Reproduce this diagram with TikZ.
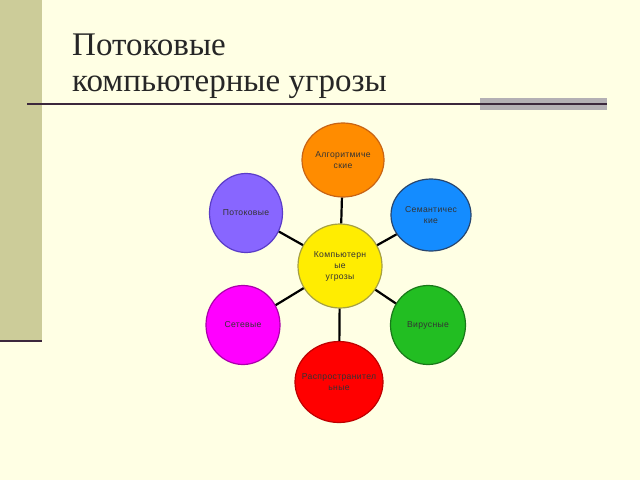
\documentclass[tikz,border=0pt]{standalone}
\usepackage{fontspec}
\setmainfont{Liberation Serif}
\newfontfamily\labelfont[LetterSpace=4]{Liberation Sans}
\usetikzlibrary{shapes.geometric}
\definecolor{bgcol}{RGB}{255,255,228}
\definecolor{barcol}{RGB}{204,204,153}
\definecolor{rulecol}{RGB}{60,40,60}
\definecolor{greybar}{RGB}{180,176,180}
\begin{document}
\begin{tikzpicture}[x=1pt,y=-1pt,
    bubble/.style={ellipse,draw,line width=1.2pt,align=center,inner sep=0pt,
      font=\labelfont\fontsize{8.6}{11}\selectfont,text=black!80},
    link/.style={line width=2.2pt,black}]

    \useasboundingbox (0,0) rectangle (640,480);
    \fill[bgcol] (0,0) rectangle (640,480);
    \fill[barcol] (0,0) rectangle (42,341);
    \draw[rulecol,line width=2pt] (0,341) -- (42,341);

    % title
    \node[anchor=base west,align=left,font=\fontsize{33}{36}\selectfont,text=black!85,inner sep=0pt] (title) at (72,91)
        {Потоковые\\компьютерные угрозы};
    \fill[greybar] (480,98) rectangle (607,110);
    \draw[rulecol,line width=1.3pt] (27,104) -- (607,104);

    % circles
    \node[bubble,fill=yellow!95!orange,draw=yellow!60!black,minimum width=84pt,minimum height=84pt] (center) at (340,266) {Компьютерн\\ые\\угрозы};
    \node[bubble,fill={rgb,255:red,255;green,140;blue,0},draw={rgb,255:red,200;green,100;blue,20},minimum width=82pt,minimum height=74pt] (algo) at (343,160) {Алгоритмиче\\ские};
    \node[bubble,fill={rgb,255:red,20;green,140;blue,255},draw={rgb,255:red,40;green,70;blue,110},minimum width=80pt,minimum height=72pt] (sem) at (431,215) {Семантичес\\кие};
    \node[bubble,fill={rgb,255:red,34;green,190;blue,34},draw={rgb,255:red,25;green,120;blue,25},minimum width=75pt,minimum height=79pt] (virus) at (428,325) {Вирусные};
    \node[bubble,fill=red,draw={rgb,255:red,190;green,0;blue,0},minimum width=88pt,minimum height=81pt,inner xsep=-12pt] (spread) at (339,382) {Распространител\\ьные};
    \node[bubble,fill={rgb,255:red,255;green,0;blue,255},draw={rgb,255:red,170;green,0;blue,170},minimum width=74pt,minimum height=79pt] (net) at (243,325) {Сетевые};
    \node[bubble,fill={rgb,255:red,136;green,102;blue,255},draw={rgb,255:red,90;green,60;blue,200},minimum width=73pt,minimum height=79pt] (flow) at (246,213) {Потоковые};

    % spokes
    \draw[link] (center) -- (algo);
    \draw[link] (center) -- (sem);
    \draw[link] (center) -- (virus);
    \draw[link] (center) -- (spread);
    \draw[link] (center) -- (net);
    \draw[link] (center) -- (flow);
\end{tikzpicture}
\end{document}
